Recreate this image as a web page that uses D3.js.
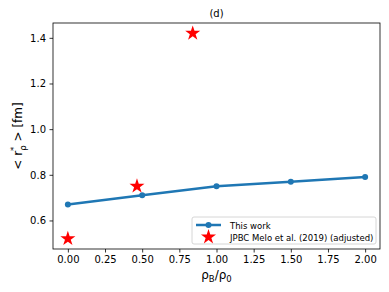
<!DOCTYPE html>
<html lang="en">
<head>
<meta charset="utf-8">
<title>(d)</title>
<script src="https://d3js.org/d3.v7.min.js"></script>
<style>
  body { margin: 0; background: #fff; }
  text { font-family: "DejaVu Sans", sans-serif; fill: #000; }
</style>
</head>
<body>
<script type="text/javascript">

  // data
  var workX = [0, 0.5, 1.0, 1.5, 2.0];
  var workY = [0.67, 0.71, 0.75, 0.77, 0.79];
  var meloX = [0.0, 0.465, 0.84];
  var meloY = [0.52, 0.75, 1.42];
  var xTicks = [0, 0.25, 0.5, 0.75, 1.0, 1.25, 1.5, 1.75, 2.0];
  var yTicks = [0.6, 0.8, 1.0, 1.2, 1.4];

  var w = 389, h = 292;
  var mLeft = 53, mRight = 380, mTop = 23, mBottom = 249;

  var xScale = d3.scaleLinear().domain([-0.1, 2.1]).range([mLeft, mRight]);
  var yScale = d3.scaleLinear().domain([0.475, 1.465]).range([mBottom, mTop]);

  var svg = d3.select("body").append("svg").attr("width", w).attr("height", h);

  // axes
  var xAxis = d3.axisBottom(xScale).tickValues(xTicks).tickFormat(d3.format(".2f")).tickSizeOuter(0).tickSize(3.5).tickPadding(3.5);
  var yAxis = d3.axisLeft(yScale).tickValues(yTicks).tickFormat(d3.format(".1f")).tickSizeOuter(0).tickSize(3.5).tickPadding(3.5);

  var gx = svg.append("g").attr("transform", `translate(0,${mBottom})`).call(xAxis);
  var gy = svg.append("g").attr("transform", `translate(${mLeft},0)`).call(yAxis);
  [gx, gy].forEach(function(g) {
    g.select(".domain").remove();
    g.selectAll("text").attr("font-size", "10px").attr("font-family", "DejaVu Sans");
    g.selectAll("line").attr("stroke", "#000").attr("stroke-width", 0.8);
  });

  // frame
  svg.append("rect").attr("x", mLeft).attr("y", mTop).attr("width", mRight - mLeft).attr("height", mBottom - mTop)
    .attr("fill", "none").attr("stroke", "#000").attr("stroke-width", 0.8);

  // this work line
  var line = d3.line().x(function(d, i) { return xScale(workX[i]); }).y(function(d) { return yScale(d); });
  svg.append("path").datum(workY).attr("d", line).attr("fill", "none").attr("stroke", "#1f77b4").attr("stroke-width", 2.5);
  svg.selectAll("circle.work").data(workY).enter().append("circle").attr("class", "work")
    .attr("cx", function(d, i) { return xScale(workX[i]); }).attr("cy", function(d) { return yScale(d); })
    .attr("r", 3).attr("fill", "#1f77b4");

  // stars
  var star = d3.symbol().type(d3.symbolStar).size(70);
  svg.selectAll("path.star").data(meloY).enter().append("path").attr("class", "star")
    .attr("d", star)
    .attr("transform", function(d, i) { return `translate(${xScale(meloX[i])},${yScale(d)})`; })
    .attr("fill", "red");

  // title and labels
  svg.append("text").attr("x", (mLeft + mRight) / 2).attr("y", 17).attr("text-anchor", "middle").attr("font-size", "10px").text("(d)");

  var yl = svg.append("text").attr("transform", `translate(22,${(mTop + mBottom) / 2}) rotate(-90)`)
    .attr("text-anchor", "middle").attr("font-size", "12px");
  yl.append("tspan").text("< r");
  yl.append("tspan").attr("dy", -5).attr("font-size", "8.5px").text("*");
  yl.append("tspan").attr("dy", 9).attr("dx", -4).attr("font-size", "8.5px").text("ρ");
  yl.append("tspan").attr("dy", -4).text(" > [fm]");

  var xl = svg.append("text").attr("x", (mLeft + mRight) / 2).attr("y", 279).attr("text-anchor", "middle").attr("font-size", "12px");
  xl.append("tspan").text("ρ");
  xl.append("tspan").attr("dy", 3).attr("font-size", "8.5px").text("B");
  xl.append("tspan").attr("dy", -3).text("/ρ");
  xl.append("tspan").attr("dy", 3).attr("font-size", "8.5px").text("0");

  // legend
  var lg = svg.append("g").attr("transform", "translate(192,217)");
  lg.append("rect").attr("width", 184).attr("height", 27).attr("rx", 2)
    .attr("fill", "#fff").attr("fill-opacity", 0.8).attr("stroke", "#ccc").attr("stroke-width", 0.8);
  lg.append("line").attr("x1", 4).attr("x2", 29).attr("y1", 8).attr("y2", 8).attr("stroke", "#1f77b4").attr("stroke-width", 2.5);
  lg.append("circle").attr("cx", 16.5).attr("cy", 8).attr("r", 3).attr("fill", "#1f77b4");
  lg.append("path").attr("d", star).attr("transform", "translate(16.5,20)").attr("fill", "red");
  lg.append("text").attr("x", 38).attr("y", 11.5).attr("font-size", "8.5px").text("This work");
  lg.append("text").attr("x", 38).attr("y", 23.5).attr("font-size", "8.5px").text("JPBC Melo et al. (2019) (adjusted)");

</script>
</body>
</html>
